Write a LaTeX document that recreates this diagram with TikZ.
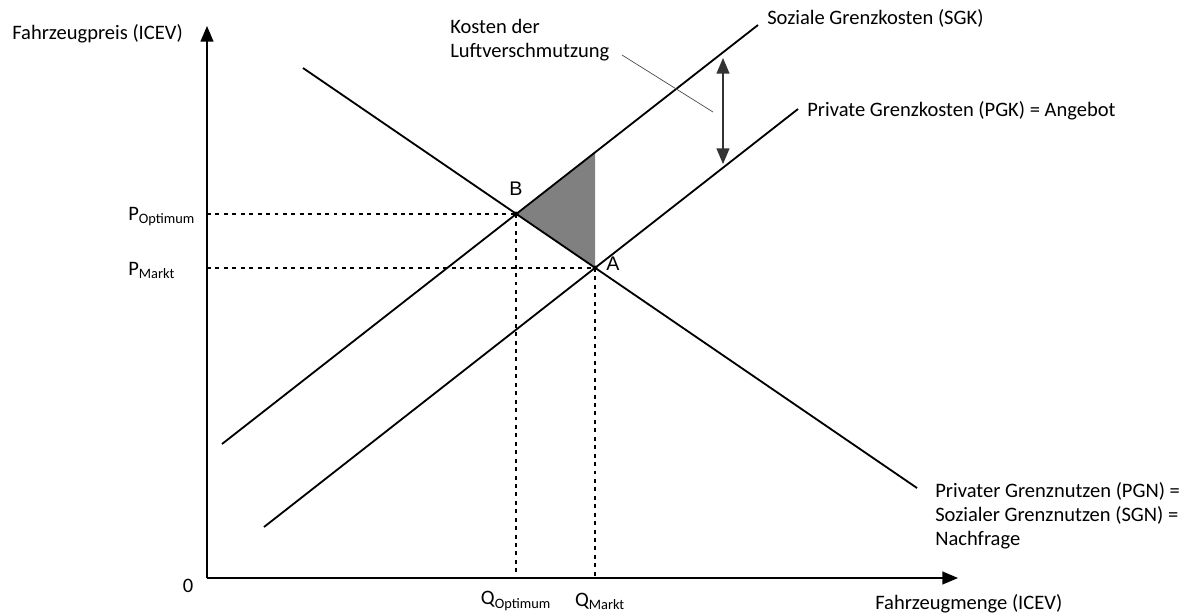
\documentclass[tikz,border=0pt]{standalone}
\usepackage{fontspec}
\setmainfont{Carlito}
\newfontfamily\arialfont{Liberation Sans}
\usetikzlibrary{arrows}

\begin{document}
\begin{tikzpicture}[x=0.025cm,y=-0.025cm,
  font=\fontsize{14.6}{17}\selectfont,
  curve/.style={line width=1.3pt},
  guide/.style={line width=1.1pt,dash pattern=on 2.8pt off 3.2pt},
  axis/.style={line width=1.6pt,-triangle 45},
  lbl/.style={anchor=west,inner sep=0pt,align=left}]
\useasboundingbox (0,0) rectangle (1192,614);
% axes
\coordinate (O) at (207,578);
\coordinate (ytop) at (207,26);
\coordinate (xend) at (958,578);
% equilibria
\coordinate (B) at (516,214);
\coordinate (A) at (595,268);
\coordinate (T) at (595,152);
% curve ends
\coordinate (sgk1) at (222,444);
\coordinate (sgk2) at (758,25);
\coordinate (pgk1) at (264,527);
\coordinate (pgk2) at (798,109);
\coordinate (pgn1) at (303,68);
\coordinate (pgn2) at (917,488);
% guides
\coordinate (pOpt) at (207,214);
\coordinate (pMkt) at (207,268);
\coordinate (qOpt) at (516,578);
\coordinate (qMkt) at (595,578);
% externality arrow and leader
\coordinate (ext1) at (723,58);
\coordinate (ext2) at (723,164);
\coordinate (lead1) at (622,55);
\coordinate (lead2) at (713,112);

\fill[gray] (B) -- (T) -- (A) -- cycle;
\draw[guide] (pOpt) -- (B);
\draw[guide] (pMkt) -- (A);
\draw[guide] (B) -- (qOpt);
\draw[guide] (A) -- (qMkt);
\draw[curve] (sgk1) -- (sgk2);
\draw[curve] (pgk1) -- (pgk2);
\draw[curve] (pgn1) -- (pgn2);
\draw[line width=0.5pt,black!70] (lead1) -- (lead2);
\draw[line width=1.6pt,black!80,triangle 45-triangle 45] (ext1) -- (ext2);
\fill (B) circle (2.5);
\fill (A) circle (2.5);
\draw[axis] (O) -- (ytop);
\draw[axis] (O) -- (xend);

\node[font=\arialfont\fontsize{14}{15}\selectfont] (labB) at (516,189) {B};
\node[lbl,font=\arialfont\fontsize{14}{15}\selectfont] (labA) at (606,264) {A};
\node[lbl] (ylab) at (12,34) {Fahrzeugpreis (ICEV)};
\node[lbl] (xlab) at (875,604) {Fahrzeugmenge (ICEV)};
\node (zero) at (188,586) {0};
\node[lbl] (popt) at (128,217) {P\textsubscript{Optimum}};
\node[lbl] (pmkt) at (128,270) {P\textsubscript{Markt}};
\node (qopt) at (516,601) {Q\textsubscript{Optimum}};
\node (qmkt) at (600,601) {Q\textsubscript{Markt}};
\node[lbl] (sgk) at (767,18) {Soziale Grenzkosten (SGK)};
\node[lbl] (pgk) at (807,111) {Private Grenzkosten (PGK) = Angebot};
\node[lbl] (pgn) at (935,516) {Privater Grenznutzen (PGN) =\\Sozialer Grenznutzen (SGN) =\\Nachfrage};
\node[lbl] (kost) at (450,40) {Kosten der\\Luftverschmutzung};
\end{tikzpicture}
\end{document}
